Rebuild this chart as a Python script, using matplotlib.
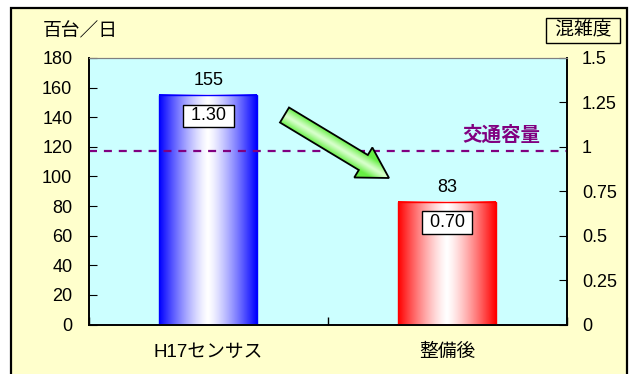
import numpy as np
import matplotlib.pyplot as plt
from matplotlib.patches import Rectangle, Polygon
from matplotlib.colors import to_rgb

plt.rcParams['font.family'] = ['Liberation Sans', 'Noto Sans CJK JP']

categories = ['H17センサス', '整備後']
traffic = [155, 83]            # 百台/日
congestion = [1.30, 0.70]      # 混雑度
capacity = 117                 # 交通容量
left_ticks = [0, 20, 40, 60, 80, 100, 120, 140, 160, 180]
right_ticks = [0, 0.25, 0.5, 0.75, 1, 1.25, 1.5]
right_labels = ['0', '0.25', '0.5', '0.75', '1', '1.25', '1.5']
bar_colors = ['#0000FF', '#FF0000']

W, H = 638, 374
FS = 13
fig = plt.figure(figsize=(W / 100, H / 100), dpi=100)
fig.patch.set_facecolor('white')

# outer frame
bg = fig.add_axes([0, 0, 1, 1], zorder=0)
bg.set_xlim(0, W)
bg.set_ylim(H, 0)
bg.axis('off')
bg.add_patch(Rectangle((11, 8), 616, 380, facecolor='#FFFFCC',
                       edgecolor='black', linewidth=1.6))

ax = fig.add_axes([89 / W, (H - 324.5) / H, (566.5 - 89) / W, (324.5 - 58) / H],
                  zorder=1)
ax.set_facecolor('#CCFFFF')
ax2 = ax.twinx()
ax2.set_zorder(2)
ax2.patch.set_visible(False)

x = np.arange(len(categories))
bw = 0.41

# bars with a horizontal edge-to-centre gradient
for xi, val, col in zip(x, traffic, bar_colors):
    c = np.array(to_rgb(col))
    t = np.abs(np.linspace(-1, 1, 200)) ** 1.3
    img = (1 - t)[:, None] * np.ones(3) + t[:, None] * c
    ax.imshow(img[None, :, :], extent=(xi - bw / 2, xi + bw / 2, 0, val),
              aspect='auto', interpolation='bilinear', zorder=2)
    ax.bar(xi, val, bw, facecolor='none', edgecolor=col, linewidth=1.0, zorder=3)

for xi, val, r in zip(x, traffic, congestion):
    ax.annotate(f'{val}', (xi, val), xytext=(0, 10.5), textcoords='offset points',
                ha='center', va='center', fontsize=FS, zorder=5)
    ax.annotate(f' {r:.2f} ', (xi, val), xytext=(0, -15), textcoords='offset points',
                ha='center', va='center', fontsize=FS, zorder=5,
                bbox=dict(boxstyle='square,pad=0.15', facecolor='white',
                          edgecolor='black', linewidth=1.0))

ax.axhline(capacity, color='#800080', linestyle=(0, (3.6, 3.1)), linewidth=1.6, zorder=4)
ax.text(0.945, capacity + 11, '交通容量', transform=ax.get_yaxis_transform(),
        ha='right', va='center', fontsize=14, fontweight='bold', color='#800080')

ax.set_xlim(-0.5, 1.5)
ax.set_ylim(0, 180)
ax2.set_ylim(0, 1.5)
ax.set_yticks(left_ticks)
ax.set_xticks(x)
ax.set_xticklabels(categories, fontsize=13.5)
ax.set_xticks([-0.5, 0.5, 1.5], minor=True)
ax.tick_params(axis='x', which='major', length=0, pad=14)
ax.tick_params(axis='x', which='minor', length=6, direction='in', width=1)
ax.tick_params(axis='y', direction='in', length=6, labelsize=FS, pad=12)
ax2.set_yticks(right_ticks)
ax2.set_yticklabels(right_labels)
ax2.tick_params(axis='y', direction='in', length=6, labelsize=FS, pad=11)

for a in (ax, ax2):
    for s in ('left', 'bottom', 'right'):
        a.spines[s].set_color('black')
        a.spines[s].set_linewidth(1.2)
    a.spines['top'].set_color('#808080')
    a.spines['top'].set_linewidth(0.8)

# overlay in pixel units for the arrow and the axis titles
over = fig.add_axes([0, 0, 1, 1], zorder=3)
over.set_xlim(0, W)
over.set_ylim(H, 0)
over.axis('off')
over.patch.set_visible(False)

tail = np.array([284.5, 115.0])
tip = np.array([389.0, 178.0])
shaft_w, head_w, head_l = 17.5, 35.0, 30.0
u = (tip - tail) / np.linalg.norm(tip - tail)
n = np.array([-u[1], u[0]])
base = tip - u * head_l
pts = [tail + n * shaft_w / 2, base + n * shaft_w / 2, base + n * head_w / 2, tip,
       base - n * head_w / 2, base - n * shaft_w / 2, tail - n * shaft_w / 2]
arrow = Polygon(pts, closed=True, facecolor='none', edgecolor='black',
                linewidth=1.3, zorder=6)
over.add_patch(arrow)

xs = np.linspace(270, 400, 260)
ys = np.linspace(95, 190, 190)
gx, gy = np.meshgrid(xs, ys)
d = np.abs((gx - tail[0]) * n[0] + (gy - tail[1]) * n[1]) / (shaft_w / 2)
t = np.clip(d, 0, 1) ** 1.2
edge = np.array(to_rgb('#66EE44'))
centre = np.array(to_rgb('#D8FFCC'))
grad = centre * (1 - t[..., None]) + edge * t[..., None]
im = over.imshow(grad, extent=(270, 400, 190, 95), aspect='auto',
                 interpolation='bilinear', zorder=5)
im.set_clip_path(arrow)

over.text(43, 32, '百台／日', ha='left', va='center', fontsize=13.5)
over.text(583, 30.5, ' 混雑度 ', ha='center', va='center', fontsize=13.5,
          bbox=dict(boxstyle='square,pad=0.18', facecolor='#FFFFCC',
                    edgecolor='black', linewidth=1.0))

fig.savefig('out.png', dpi=100)
